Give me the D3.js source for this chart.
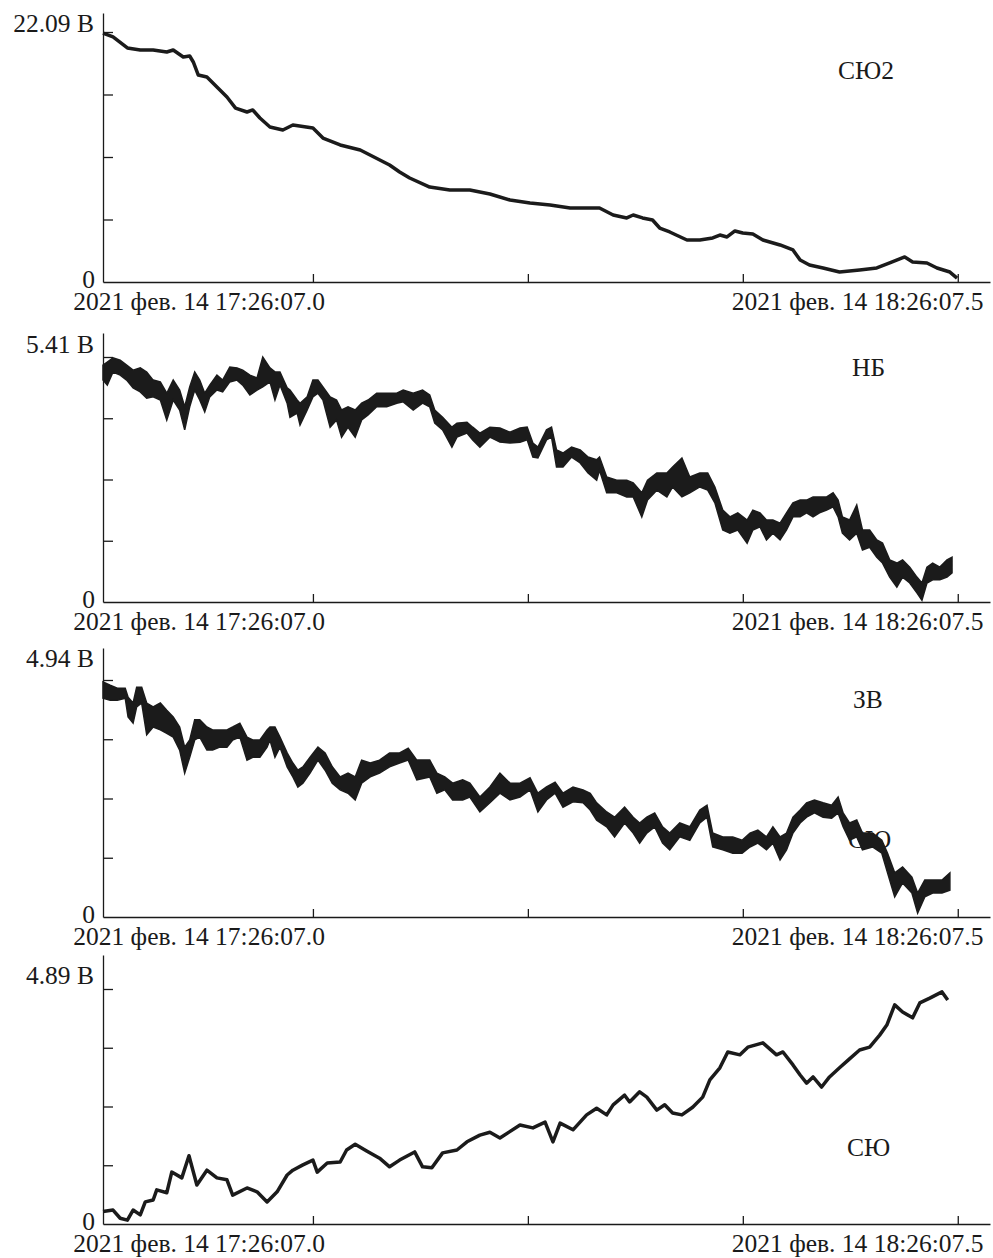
<!DOCTYPE html>
<html>
<head>
<meta charset="utf-8">
<script src="https://cdn.jsdelivr.net/npm/d3@7/dist/d3.min.js"></script>
<style>
  body { margin: 0; background: #fff; }
  svg text { font-family: "Liberation Serif", "Tinos", "Times New Roman", "DejaVu Serif", serif; font-size: 25.5px; fill: #1a1a1a; }
  .axis path, .axis line { stroke: #1a1a1a; stroke-width: 1.3; }
</style>
</head>
<body>
<div id="vis"></div>
<script>
var width = 993,
    height = 1258;

// minutes after 2021-02-14 17:26:07.0
var base = new Date(2021, 1, 14, 17, 26, 7);
var xTicks = [0, 30, 60, 90];
var xLabels = ["2021 фев. 14 17:26:07.0", "2021 фев. 14 18:26:07.5"];
var yMax = [22.09, 5.41, 4.94, 4.89];
var names = ["СЮ2", "НБ", "ЗВ", "СЮ"];

// СЮ2
var t1 = [-29.3,-27.9,-25.9,-24.1,-22.3,-20.4,-19.5,-18.1,-17.2,-16.7,-16.0,-14.8,-13.4,-12.0,-10.8,-9.2,-8.4,-7.4,-6.0,-4.2,
  -2.8,0,1.4,3.8,6.6,10.7,12.1,13.5,16.3,19.1,21.9,24.7,27.5,30.3,33.1,35.9,38.7,40.0,41.9,43.8,
  44.7,46.0,47.4,48.4,49.8,52.2,54.0,55.8,56.8,57.8,58.9,60.0,61.4,62.8,65.2,67.0,68.0,69.3,71.2,73.5,
  76.3,78.7,80.5,82.6,83.7,85.7,87.1,88.9,89.9];
var v1 = [22.00,21.65,20.68,20.50,20.50,20.32,20.50,19.88,19.97,19.44,18.29,18.11,17.23,16.35,15.37,15.02,15.20,14.49,13.70,13.43,
  13.87,13.61,12.72,12.11,11.66,10.34,9.72,9.19,8.39,8.13,8.13,7.78,7.25,6.98,6.80,6.54,6.54,6.54,5.92,5.66,
  5.92,5.66,5.48,4.77,4.42,3.71,3.71,3.89,4.15,3.98,4.51,4.33,4.24,3.71,3.27,2.83,1.94,1.50,1.24,0.88,
  1.06,1.24,1.68,2.21,1.77,1.68,1.24,0.88,0.35];

// НБ (upper / lower edge of the noisy trace)
var t2 = [-29.3,-28.7,-27.9,-26.9,-26.0,-25.1,-24.1,-23.2,-22.3,-21.3,-20.4,-19.5,-18.6,-17.9,-17.2,-16.5,-15.8,-15.1,-14.4,-13.4,
  -12.6,-11.6,-10.6,-9.8,-8.8,-7.8,-7.0,-6.0,-5.3,-4.6,-3.6,-3.2,-2.2,-1.8,-0.8,0,0.7,1.4,2.4,3.3,
  4.0,4.9,5.9,6.8,7.7,8.9,10.3,11.7,12.6,14.0,15.3,16.3,17.0,18.1,19.4,20.1,21.5,22.3,23.3,24.7,
  26.1,27.5,28.9,29.9,30.7,31.4,32.6,33.3,34.0,34.9,36.1,37.3,38.4,39.6,40.0,41.0,42.4,43.8,44.7,45.9,
  46.7,48.0,49.4,50.2,51.5,52.6,54.0,55.1,56.1,57.2,58.2,59.3,60.6,61.4,62.4,63.3,64.2,65.2,66.1,67.0,
  68.0,68.9,69.8,70.7,71.7,72.6,73.3,73.9,74.9,75.9,76.7,77.7,78.7,79.5,80.5,81.5,82.3,83.3,84.3,85.0,
  85.7,86.5,87.5,88.5,89.2];
var hi2 = [5.23,5.30,5.39,5.34,5.23,5.12,5.17,5.08,4.90,4.86,4.61,4.90,4.68,4.31,4.75,5.08,4.90,4.61,4.79,5.01,
  4.90,5.19,5.17,5.12,5.01,4.95,5.41,5.17,5.08,5.08,4.73,4.68,4.46,4.39,4.53,4.90,4.90,4.75,4.53,4.46,
  4.24,4.31,4.24,4.39,4.46,4.61,4.61,4.61,4.68,4.61,4.68,4.57,4.24,4.08,3.86,3.95,3.97,3.86,3.73,3.86,
  3.84,3.75,3.84,3.86,3.51,3.42,3.80,3.86,3.36,3.29,3.42,3.36,3.20,3.14,3.20,2.76,2.69,2.69,2.63,2.41,
  2.69,2.85,2.85,2.98,3.18,2.76,2.85,2.85,2.54,2.03,1.88,1.97,1.81,2.03,1.97,1.81,1.81,1.74,1.97,2.19,
  2.25,2.25,2.32,2.32,2.32,2.41,2.25,1.88,1.81,2.14,1.59,1.59,1.37,1.30,0.93,0.86,0.93,0.77,0.55,0.42,
  0.77,0.86,0.77,0.93,0.99];
var lo2 = [4.90,4.79,5.08,5.01,4.90,4.73,4.64,4.50,4.53,4.46,4.02,4.46,4.24,3.80,4.31,4.68,4.46,4.20,4.53,4.68,
  4.64,4.86,4.90,4.79,4.57,4.68,4.75,4.86,4.46,4.79,4.39,4.08,4.17,3.91,4.24,4.53,4.61,4.46,3.86,4.02,
  3.64,3.86,3.64,4.02,4.13,4.31,4.31,4.39,4.42,4.24,4.39,4.31,3.95,3.80,3.42,3.64,3.73,3.58,3.42,3.64,
  3.53,3.51,3.53,3.58,3.20,3.18,3.58,3.64,2.98,2.98,3.20,3.07,2.85,2.69,2.91,2.41,2.41,2.32,2.32,1.88,
  2.25,2.47,2.32,2.54,2.32,2.41,2.54,2.47,2.19,1.59,1.52,1.59,1.30,1.59,1.66,1.37,1.52,1.37,1.59,1.88,
  1.88,1.97,1.88,1.97,2.03,2.10,1.88,1.52,1.37,1.52,1.15,1.21,0.99,0.86,0.55,0.33,0.55,0.42,0.20,0.04,
  0.42,0.49,0.49,0.55,0.64];

// ЗВ (upper / lower edge of the noisy trace)
var t3 = [-29.3,-28.3,-27.3,-26.2,-25.8,-25.1,-24.6,-23.9,-23.2,-22.3,-21.3,-20.4,-19.5,-18.6,-17.9,-17.2,-16.5,-15.8,-14.8,-14.0,
  -13.0,-12.0,-11.2,-10.2,-9.2,-8.4,-7.4,-6.4,-6.0,-5.3,-4.6,-3.6,-2.8,-2.1,-1.4,-0.4,0.7,1.7,2.7,3.8,
  4.9,5.9,6.8,8.0,9.3,10.7,12.1,13.3,14.5,16.3,17.3,18.4,19.5,20.9,21.9,23.3,24.7,26.1,27.5,28.9,
  30.3,31.4,32.6,33.8,34.9,36.3,37.7,38.7,39.6,41.0,42.1,43.5,44.7,45.6,46.6,47.7,48.8,49.8,51.2,52.6,
  54.0,55.0,55.8,57.2,58.6,59.9,61.0,62.1,63.3,64.2,65.2,66.1,67.0,68.0,68.9,70.0,71.2,72.4,73.3,74.0,
  74.9,75.9,76.7,78.1,79.4,80.2,81.2,82.3,83.6,84.4,85.4,86.5,87.8,88.9];
var hi3 = [4.90,4.83,4.77,4.77,4.58,4.46,4.79,4.79,4.46,4.38,4.46,4.31,4.17,3.96,3.54,3.69,4.11,4.11,3.96,3.90,
  3.90,3.90,3.96,4.04,3.75,3.69,3.69,3.90,3.96,3.96,3.75,3.42,3.21,3.06,3.13,3.33,3.54,3.42,3.13,2.92,
  3.00,2.92,3.27,3.21,3.27,3.42,3.42,3.52,3.27,3.27,3.00,2.92,2.79,2.86,2.79,2.50,2.71,3.00,2.79,2.79,
  2.90,2.58,2.71,2.81,2.58,2.71,2.65,2.58,2.38,2.19,2.08,2.29,2.08,1.96,2.08,2.17,1.88,1.75,1.96,1.88,
  2.23,2.33,1.75,1.67,1.67,1.60,1.75,1.81,1.67,1.88,1.67,1.75,2.08,2.23,2.38,2.44,2.38,2.33,2.50,2.17,
  1.96,2.02,1.75,1.75,1.60,1.33,0.92,1.04,0.83,0.50,0.77,0.77,0.77,0.92];
var lo3 = [4.56,4.52,4.52,4.56,4.17,4.04,4.38,4.46,3.80,3.96,3.90,3.83,3.75,3.48,3.00,3.33,3.69,3.75,3.48,3.48,
  3.54,3.54,3.69,3.75,3.27,3.33,3.33,3.54,3.69,3.33,3.54,3.13,2.92,2.71,2.79,3.00,3.27,3.06,2.79,2.65,
  2.58,2.44,2.79,2.92,3.00,3.13,3.21,3.27,2.86,2.92,2.58,2.65,2.44,2.44,2.50,2.19,2.38,2.58,2.44,2.50,
  2.65,2.19,2.44,2.58,2.29,2.40,2.38,2.23,2.02,1.88,1.67,1.96,1.75,1.54,1.75,1.88,1.54,1.40,1.67,1.60,
  1.96,2.08,1.46,1.40,1.33,1.33,1.46,1.54,1.40,1.54,1.19,1.40,1.75,1.96,2.08,2.17,2.08,2.06,2.17,1.88,
  1.60,1.67,1.40,1.46,1.33,0.92,0.42,0.71,0.50,0.08,0.42,0.50,0.50,0.56];

// СЮ
var t4 = [-29.3,-27.9,-26.9,-25.9,-25.1,-24.1,-23.4,-22.3,-21.8,-20.4,-19.7,-18.3,-17.3,-16.2,-14.8,-13.4,-12.0,-11.2,-9.2,-7.8,
  -6.4,-5.0,-3.6,-2.8,-1.4,0,0.6,2.0,3.8,4.7,5.9,7.5,9.3,10.7,12.1,14.2,15.3,16.6,18.1,20.1,
  21.5,23.3,24.7,26.1,28.9,30.7,32.4,33.5,34.5,36.3,38.2,39.6,41.0,41.9,43.5,44.2,45.6,46.6,48.0,49.1,
  50.2,51.5,53.0,54.4,55.4,56.8,57.9,59.6,60.7,62.8,64.7,65.6,67.0,68.0,68.9,69.8,71.0,72.1,73.5,74.7,
  76.3,77.7,79.1,80.1,81.2,82.3,83.7,84.7,86.1,87.8,88.6];
var v4 = [0.26,0.29,0.12,0.08,0.29,0.19,0.46,0.50,0.71,0.65,1.08,0.96,1.42,0.81,1.12,0.96,0.92,0.60,0.75,0.67,
  0.46,0.67,1.02,1.12,1.23,1.33,1.08,1.27,1.29,1.54,1.66,1.52,1.37,1.19,1.33,1.50,1.19,1.17,1.48,1.54,
  1.71,1.85,1.91,1.79,2.06,2.00,2.12,1.71,2.10,1.96,2.27,2.41,2.27,2.48,2.68,2.54,2.75,2.64,2.37,2.48,
  2.31,2.27,2.43,2.64,3.00,3.25,3.58,3.52,3.68,3.77,3.52,3.58,3.31,3.10,2.93,3.06,2.85,3.06,3.25,3.41,
  3.62,3.68,3.93,4.14,4.56,4.41,4.29,4.60,4.70,4.83,4.66];

// panel layout: axis top, top tick, zero line, label positions
var panels = [
  { t: t1, v: v1, axisTop: 13, topTick: 32, zero: 282, maxY: 32, nameX: 838, nameY: 79 },
  { t: t2, hi: hi2, lo: lo2, axisTop: 333, topTick: 357, zero: 602, maxY: 353, nameX: 852, nameY: 376 },
  { t: t3, hi: hi3, lo: lo3, axisTop: 648, topTick: 680, zero: 917, maxY: 667, nameX: 853, nameY: 708, ghost: [848, 848] },
  { t: t4, v: v4, axisTop: 955, topTick: 989, zero: 1224, maxY: 984, nameX: 847, nameY: 1156 }
];

function toDate(m) { return new Date(base.getTime() + m * 60000); }

var x = d3.scaleTime()
    .domain([toDate(-29.3), toDate(94.5)])
    .range([103, 990]);

var svg = d3.select("#vis").append("svg")
    .attr("width", width)
    .attr("height", height);

panels.forEach(function(p, i) {
  var max = yMax[i];
  var y = d3.scaleLinear()
      .domain([0, max * (p.zero - p.axisTop) / (p.zero - p.topTick)])
      .range([p.zero, p.axisTop]);

  var g = svg.append("g");

  if (p.ghost) {
    // label partly hidden under the trace
    g.append("text").attr("x", p.ghost[0]).attr("y", p.ghost[1]).text("СЮ");
  }

  if (p.v) {
    g.append("path")
      .datum(p.t.map(function(d, j) { return [d, p.v[j]]; }))
      .attr("fill", "none")
      .attr("stroke", "#1b1b1b")
      .attr("stroke-width", 3.5)
      .attr("stroke-linejoin", "round")
      .attr("d", d3.line()
        .x(function(d) { return x(toDate(d[0])); })
        .y(function(d) { return y(d[1]); }));
  } else {
    g.append("path")
      .datum(p.t.map(function(d, j) { return [d, p.lo[j], p.hi[j]]; }))
      .attr("fill", "#1b1b1b")
      .attr("stroke", "#1b1b1b")
      .attr("stroke-width", 1.5)
      .attr("d", d3.area()
        .x(function(d) { return x(toDate(d[0])); })
        .y0(function(d) { return y(d[1]); })
        .y1(function(d) { return y(d[2]); }));
  }

  g.append("g")
    .attr("class", "axis")
    .attr("transform", "translate(0," + p.zero + ")")
    .call(d3.axisBottom(x)
      .tickValues(xTicks.map(toDate))
      .tickSize(-8)
      .tickSizeOuter(0)
      .tickFormat(""));

  g.append("g")
    .attr("class", "axis")
    .attr("transform", "translate(103,0)")
    .call(d3.axisRight(y)
      .tickValues([max / 4, max / 2, max * 3 / 4, max])
      .tickSize(10)
      .tickSizeOuter(0)
      .tickFormat(""));

  g.append("text")
    .attr("x", 94).attr("y", p.maxY)
    .attr("text-anchor", "end")
    .text(max + " В");

  g.append("text")
    .attr("x", 95).attr("y", p.zero + 6)
    .attr("text-anchor", "end")
    .text("0");

  g.append("text")
    .attr("x", x(toDate(xTicks[0])) + 12).attr("y", p.zero + 28)
    .attr("text-anchor", "end")
    .text(xLabels[0]);

  g.append("text")
    .attr("x", x(toDate(xTicks[2])) - 11).attr("y", p.zero + 28)
    .attr("text-anchor", "start")
    .text(xLabels[1]);

  g.append("text")
    .attr("x", p.nameX).attr("y", p.nameY)
    .text(names[i]);
});
</script>
</body>
</html>
